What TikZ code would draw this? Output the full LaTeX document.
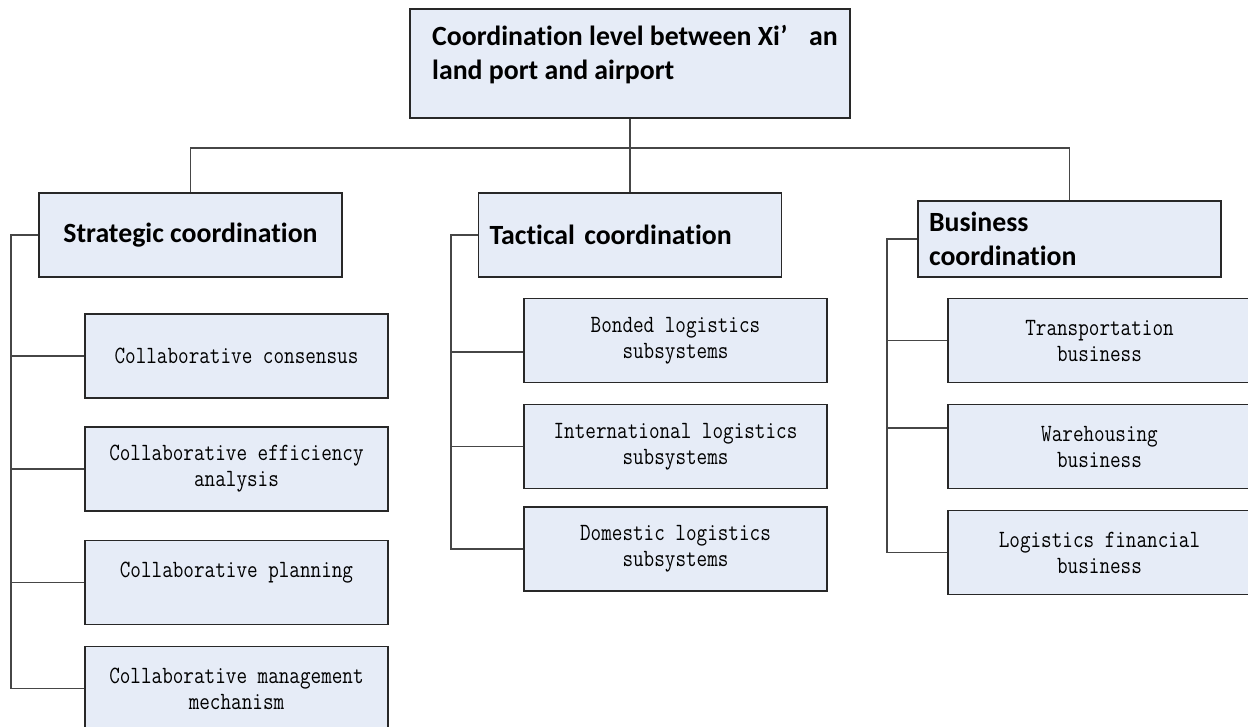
\documentclass[tikz,border=0pt]{standalone}
\usepackage{fontspec}
\setmainfont[Ligatures=CommonOff]{Carlito}
\newfontfamily\headfont[Ligatures=CommonOff]{Carlito}
\newfontfamily\monofont[FakeStretch=0.83]{Latin Modern Mono}
\usetikzlibrary{calc}
\definecolor{boxfill}{RGB}{230,236,247}
\definecolor{boxline}{RGB}{40,40,40}
\definecolor{connc}{RGB}{70,70,70}
\begin{document}
\begin{tikzpicture}[x=1pt,y=-1pt,
  box/.style={draw=boxline, fill=boxfill, line width=1.3pt, inner sep=0pt, minimum width=303pt, minimum height=84pt},
  head/.style={box, font=\headfont\bfseries\fontsize{27.8}{34}\selectfont},
  subbox/.style={box, font=\monofont\fontsize{24.8}{26}\selectfont, align=center},
  conn/.style={draw=connc, line width=1.3pt}]
\useasboundingbox (0,0) rectangle (1248,727);
% top
\node[box, minimum width=440pt, minimum height=109pt] (top) at (630,63.5) {};
\node[anchor=north west, inner sep=0pt, align=left, font=\headfont\bfseries\fontsize{27.8}{34}\selectfont] (toptext) at (432,25) {Coordination level between Xi’\hspace{0.55em} an\\land port and airport};
% level 2
\node[head] (strat) at (190.5,235) {Strategic coordination};
\node[head, text width=281pt, align=left] (tact) at (630,235) {Tactical coordination};
\node[head, minimum height=76pt, text width=281pt, align=left] (busi) at (1069.5,239) {Business\\coordination};
% strategic subs
\node[subbox] (s1) at (236.5,356) {Collaborative consensus};
\node[subbox] (s2) at (236.5,469) {Collaborative efficiency\\analysis};
\node[subbox] (s3) at (236.5,582.5) {Collaborative planning\\\mbox{}};
\node[subbox] (s4) at (236.5,688.5) {Collaborative management\\mechanism};
% tactical subs
\node[subbox] (t1) at (675.5,340.5) {Bonded logistics\\subsystems};
\node[subbox] (t2) at (675.5,446.5) {International logistics\\subsystems};
\node[subbox] (t3) at (675.5,549) {Domestic logistics\\subsystems};
% business subs
\node[subbox] (b1) at (1099.5,340.5) {Transportation\\business};
\node[subbox] (b2) at (1099.5,446.5) {Warehousing\\business};
\node[subbox] (b3) at (1099.5,552.5) {Logistics financial\\business};
% bus
\coordinate (bus) at (630,148);
\coordinate (sL) at (11,235);
\coordinate (tL) at (451,235);
\coordinate (bL) at (887,239);
\draw[conn] (top.south) -- (bus);
\draw[conn] (strat.north) |- (bus) -| (busi.north);
\draw[conn] (bus) -- (tact.north);
% strategic bracket
\draw[conn] (strat.west) -- (sL) |- (s4.west);
\draw[conn] (s1.west) -- (s1.west -| sL);
\draw[conn] (s2.west) -- (s2.west -| sL);
\draw[conn] (s3.west) -- (s3.west -| sL);
% tactical bracket
\draw[conn] (tact.west) -- (tL) |- (t3.west);
\draw[conn] ([yshift=-11.5pt]t1.west) -- ([yshift=-11.5pt]t1.west -| tL);
\draw[conn] (t2.west) -- (t2.west -| tL);
% business bracket
\draw[conn] (busi.west) -- (bL) |- (b3.west);
\draw[conn] (b1.west) -- (b1.west -| bL);
\draw[conn] ([yshift=18.5pt]b2.west) -- ([yshift=18.5pt]b2.west -| bL);
\end{tikzpicture}
\end{document}
